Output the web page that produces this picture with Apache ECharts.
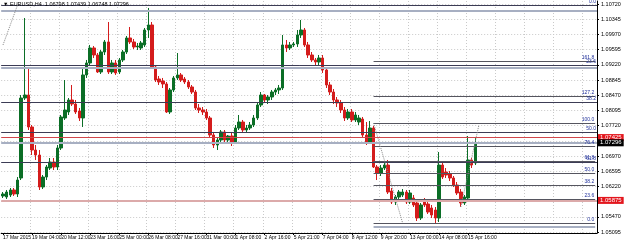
<!DOCTYPE html>
<html><head><meta charset="utf-8">
<script src="https://cdn.jsdelivr.net/npm/echarts@6/dist/echarts.min.js"></script>
<style>html,body{margin:0;padding:0;background:#fff;overflow:hidden}#c{width:625px;height:241px}</style>
</head><body><div id="c"></div>
<script>
const symbolName = 'EURUSD,H4';
const timeLabels = ['17 Mar 2015','19 Mar 04:00','20 Mar 12:00','23 Mar 16:00','25 Mar 00:00','26 Mar 08:00','27 Mar 16:00','31 Mar 00:00','1 Apr 08:00','2 Apr 16:00','5 Apr 21:00','7 Apr 04:00','8 Apr 12:00','9 Apr 20:00','13 Apr 00:00','14 Apr 08:00','15 Apr 16:00'];
const labelStep = 8;
const slotCount = 164;

const opens = [1.05984,1.05959,1.06008,1.06132,1.06033,1.06428,1.08401,1.08475,1.07686,1.07118,1.06995,1.06206,1.06452,1.06674,1.06822,1.06699,1.07168,1.07908,1.08056,1.08352,1.08253,1.08081,1.07908,1.08969,1.09265,1.09635,1.09462,1.09043,1.09536,1.09783,1.09043,1.09265,1.09043,1.09339,1.09536,1.09882,1.09783,1.09660,1.09635,1.09709,1.10079,1.10202,1.09166,1.08870,1.08821,1.08747,1.08056,1.08599,1.08895,1.08969,1.08870,1.08796,1.08673,1.08549,1.08155,1.08105,1.08056,1.07908,1.07489,1.07242,1.07365,1.07563,1.07365,1.07464,1.07316,1.07661,1.07809,1.07612,1.07661,1.07735,1.07908,1.08229,1.08475,1.08352,1.08426,1.08549,1.08599,1.08648,1.09709,1.09635,1.09709,1.09734,1.09956,1.10079,1.09709,1.09462,1.09339,1.09289,1.09388,1.09092,1.08722,1.08549,1.08352,1.08278,1.08105,1.07908,1.08056,1.07859,1.07809,1.07883,1.07489,1.07316,1.07661,1.06699,1.06551,1.06674,1.06748,1.06107,1.05836,1.05959,1.06008,1.06082,1.05836,1.05934,1.05811,1.05441,1.05885,1.05786,1.05688,1.05638,1.05441,1.06748,1.06576,1.06526,1.06428,1.06255,1.06082,1.05811,1.05934,1.06872,1.06798];
const closes = [1.06033,1.06082,1.06132,1.06033,1.06378,1.08401,1.08475,1.07686,1.07118,1.06995,1.06206,1.06452,1.06699,1.06822,1.06699,1.07168,1.07933,1.08105,1.08352,1.08253,1.08056,1.07908,1.08969,1.09265,1.09635,1.09462,1.09043,1.09536,1.09783,1.09043,1.09265,1.09018,1.09339,1.09536,1.09882,1.09783,1.09660,1.09684,1.09758,1.10079,1.10202,1.09166,1.08845,1.08796,1.08747,1.08056,1.08599,1.08895,1.08969,1.08845,1.08796,1.08673,1.08549,1.08155,1.08105,1.08056,1.07908,1.07489,1.07242,1.07365,1.07563,1.07365,1.07464,1.07316,1.07661,1.07809,1.07612,1.07661,1.07735,1.07908,1.08229,1.08475,1.08352,1.08426,1.08549,1.08599,1.08648,1.09709,1.09635,1.09709,1.09734,1.09956,1.10079,1.09709,1.09462,1.09339,1.09289,1.09388,1.09092,1.08722,1.08549,1.08352,1.08278,1.08105,1.07908,1.08056,1.07859,1.07982,1.07908,1.07489,1.07316,1.07661,1.06699,1.06551,1.06674,1.06748,1.06082,1.05836,1.05959,1.06082,1.06082,1.05836,1.06058,1.05762,1.05441,1.05762,1.05762,1.05589,1.05515,1.05441,1.06748,1.06452,1.06502,1.06428,1.06255,1.06058,1.05811,1.05959,1.06872,1.06748,1.07296];
const lows = [1.05934,1.05910,1.05959,1.05984,1.05959,1.06378,1.08352,1.07612,1.06995,1.06872,1.06132,1.06156,1.06378,1.06625,1.06625,1.06625,1.07118,1.07859,1.07982,1.08204,1.08007,1.07834,1.07686,1.08895,1.09215,1.09388,1.09018,1.08993,1.09462,1.08993,1.08993,1.08969,1.08993,1.09289,1.09487,1.09734,1.09610,1.09585,1.09585,1.09660,1.09882,1.09141,1.08796,1.08722,1.08648,1.08031,1.08007,1.08549,1.08845,1.08796,1.08747,1.08623,1.08500,1.08105,1.08031,1.07982,1.07859,1.07439,1.07168,1.07118,1.07316,1.07291,1.07316,1.07217,1.07267,1.07612,1.07563,1.07563,1.07612,1.07686,1.07859,1.08179,1.08278,1.08253,1.08352,1.08475,1.08500,1.08599,1.09536,1.09585,1.09660,1.09660,1.09882,1.09660,1.09388,1.09289,1.09215,1.09215,1.09018,1.08648,1.08475,1.08253,1.08179,1.08031,1.07834,1.07859,1.07809,1.07809,1.07735,1.07439,1.07242,1.07267,1.06674,1.06378,1.06477,1.06625,1.06033,1.05786,1.05762,1.05910,1.05959,1.05786,1.05786,1.05712,1.05367,1.05392,1.05712,1.05540,1.05441,1.05293,1.05342,1.06403,1.06428,1.06354,1.06206,1.06008,1.05712,1.05762,1.05885,1.06674,1.06748];
const highs = [1.06082,1.06132,1.06181,1.06181,1.06452,1.08475,1.10375,1.09166,1.07735,1.07242,1.07118,1.06502,1.06748,1.06921,1.06921,1.07242,1.07982,1.08845,1.08401,1.08722,1.08352,1.08155,1.09141,1.09339,1.09709,1.09684,1.09511,1.09585,1.09832,1.10276,1.09339,1.09339,1.09388,1.09585,1.09931,1.10153,1.09857,1.09758,1.09808,1.10128,1.10622,1.10276,1.09215,1.08944,1.08895,1.08796,1.08648,1.08944,1.09511,1.09018,1.08919,1.08845,1.08722,1.08599,1.08253,1.08179,1.08130,1.07957,1.07563,1.07415,1.07612,1.07612,1.07489,1.07563,1.07735,1.07982,1.07859,1.07735,1.07809,1.07982,1.08278,1.08549,1.08500,1.08475,1.08599,1.08648,1.08722,1.09956,1.09832,1.09783,1.09783,1.10079,1.10326,1.10128,1.09783,1.09536,1.09388,1.09462,1.09462,1.09141,1.08796,1.08623,1.08426,1.08352,1.08179,1.08130,1.08130,1.08056,1.07982,1.07933,1.07809,1.07834,1.07711,1.06748,1.06748,1.06822,1.06872,1.06181,1.06008,1.06132,1.06156,1.06132,1.06132,1.06008,1.05885,1.05811,1.05934,1.05860,1.05762,1.05712,1.07069,1.06798,1.06674,1.06600,1.06477,1.06329,1.06156,1.06008,1.07464,1.06921,1.07439];

const priceTicks = [1.05095,1.05470,1.05845,1.06220,1.06595,1.06970,1.07345,1.07720,1.08095,1.08470,1.08845,1.09220,1.09595,1.09970,1.10345,1.10720];
const yMin = 1.05071, yMax = 1.10794;

const redLines = [1.07425, 1.05875];
const bidPrice = 1.07296;
const fibA = { p0: 1.10695, p100: 1.04429, levels: [0, 23.6, 38.2, 50, 61.8] };
const fibB = { p0: 1.05317, p100: 1.07784, startBar: 102, levels: [0, 23.6, 38.2, 50, 61.8, 76.4, 100, 127.2, 161.8] };
const grayLinesFull = [1.10548, 1.09141];
const grayLinesPartial = [1.05219];
const trendLines = [[0, 1.09709, 4, 1.10695], [102, 1.07784, 110, 1.05317], [126, 1.05712, 131, 1.07735]];

const FONT = 'Liberation Sans';
const cats = Array.from({length: slotCount}, (_, i) => String(i));
const candleData = opens.map((o, i) => [o, closes[i], lows[i], highs[i]]);
const last = opens.length - 1;
const f5 = v => v.toFixed(5);

const ml = [];
fibA.levels.forEach(l => {
  const p = fibA.p0 + (fibA.p100 - fibA.p0) * l / 100;
  ml.push({ yAxis: p, lineStyle: { color: '#3c3c55', width: 1, type: 'solid' },
    label: { show: true, position: 'insideEndTop', formatter: l.toFixed(1), color: '#1f2f9a', fontSize: 5, fontFamily: FONT, distance: 1 } });
});
grayLinesFull.forEach(p => ml.push({ yAxis: p, lineStyle: { color: '#a7afc2', width: 2, type: 'solid' }, label: { show: false } }));
fibB.levels.forEach(l => {
  const p = fibB.p0 + (fibB.p100 - fibB.p0) * l / 100;
  ml.push([{ coord: [String(fibB.startBar), p], lineStyle: { color: '#55555f', width: 1, type: 'solid' },
    label: { show: true, position: 'insideEndTop', formatter: l.toFixed(1), color: '#1f2f9a', fontSize: 5, fontFamily: FONT, distance: 1 } },
    { coord: [String(slotCount - 1), p] }]);
});
grayLinesPartial.forEach(p => ml.push([{ coord: [String(fibB.startBar), p], lineStyle: { color: '#a7afc2', width: 2, type: 'solid' }, label: { show: false } }, { coord: [String(slotCount - 1), p] }]));
trendLines.forEach(t => ml.push([{ coord: [String(t[0]), t[1]], lineStyle: { color: '#8a8a8a', width: 1, type: 'dotted' }, label: { show: false } }, { coord: [String(t[2]), t[3]] }]));
redLines.forEach((p, i) => ml.push({ yAxis: p, lineStyle: { color: i === 0 ? '#d0454a' : '#dcaaaa', width: i === 0 ? 1 : 2, type: 'solid' },
  label: { show: true, position: 'end', formatter: f5(p), color: '#fff', backgroundColor: '#e3161d', fontSize: 6, fontFamily: FONT, padding: [1, 2, 0, 2], distance: 1 } }));
ml.push({ yAxis: bidPrice, lineStyle: { color: '#a7afc2', width: 2, type: 'solid' },
  label: { show: true, position: 'end', formatter: f5(bidPrice), color: '#fff', backgroundColor: '#000', fontSize: 6, fontFamily: FONT, padding: [1, 2, 0, 2], distance: 1 } });

const hidden = [1.07345, 1.05845];
const labelTicks = priceTicks.filter(v => !hidden.includes(v));
const showTick = i => i % labelStep === 0 && i / labelStep < timeLabels.length;

const chart = echarts.init(document.getElementById('c'), null, { renderer: 'canvas' });
chart.setOption({
  animation: false,
  backgroundColor: '#ffffff',
  title: { text: '\u25BC ' + symbolName + '  ' + [opens[last], highs[last], lows[last], closes[last]].map(f5).join(' '),
    left: 3, top: 1, padding: 0, textStyle: { fontSize: 5.5, fontWeight: 'normal', color: '#000', fontFamily: FONT } },
  grid: { left: 0, right: 28, top: 1, bottom: 8 },
  xAxis: {
    type: 'category', data: cats, boundaryGap: true,
    axisLine: { show: true, lineStyle: { color: '#000', width: 1 } },
    axisTick: { show: true, length: 2, alignWithLabel: true, interval: showTick, lineStyle: { color: '#000' } },
    axisLabel: { interval: showTick, showMinLabel: true, formatter: (v, i) => timeLabels[i / labelStep] || '',
      align: 'left', margin: 2, fontSize: 5, color: '#000', fontFamily: FONT },
    splitLine: { show: true, interval: i => i % labelStep === 0 && i > 0, lineStyle: { color: '#c9c9c9', type: [1, 2], width: 1 } }
  },
  yAxis: {
    type: 'value', position: 'right', min: yMin, max: yMax, scale: true,
    axisLine: { show: true, lineStyle: { color: '#000', width: 1 } },
    axisTick: { show: true, length: 2, customValues: priceTicks, lineStyle: { color: '#000' } },
    axisLabel: { customValues: labelTicks, formatter: v => v.toFixed(5), fontSize: 5.5, margin: 4, color: '#000', fontFamily: FONT },
    splitLine: { show: true, lineStyle: { color: '#c9c9c9', type: [1, 2], width: 1 } }
  },
  series: [
    { type: 'line', data: [], z: 1, silent: true,
      markLine: { silent: true, symbol: ['none', 'none'], animation: false, precision: 5, data: ml } },
    { type: 'candlestick', data: candleData, z: 3, barWidth: 3,
      itemStyle: { color: '#0b6e26', color0: '#d41c1c', borderColor: '#0b6e26', borderColor0: '#d41c1c', borderWidth: 1 } }
  ]
});
</script></body></html>
